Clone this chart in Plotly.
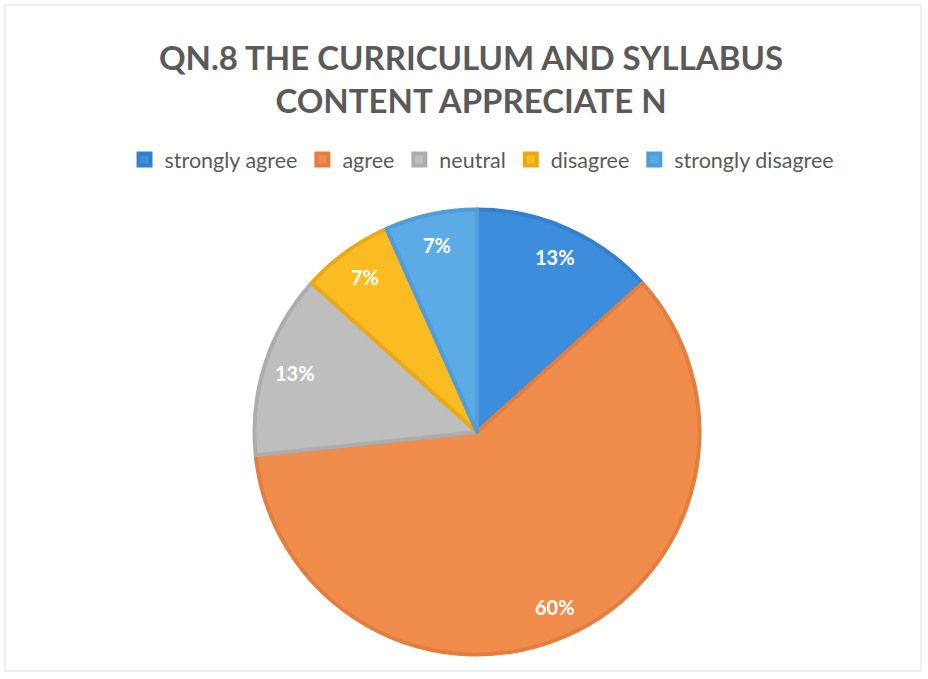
import math
import plotly.graph_objects as go

categories = ["strongly agree", "agree", "neutral", "disagree", "strongly disagree"]
counts = [2, 9, 2, 1, 1]
colors = ["#3C8DDC", "#F08C4C", "#BEBEBE", "#FBBB22", "#5CAAE6"]
edge_colors = ["#3580CC", "#E47E3E", "#ADADAD", "#EBAA14", "#4F9DDA"]
title_text = "QN.8 THE CURRICULUM AND SYLLABUS<br>CONTENT APPRECIATE N"

W, H = 928, 679
cx, cy, R = 477, 432, 222.5  # pie centre / radius in pixels (layout)

fig = go.Figure()
fig.add_trace(go.Pie(
    labels=categories,
    values=counts,
    sort=False,
    direction="clockwise",
    rotation=0,
    marker=dict(colors=colors, line=dict(color=edge_colors, width=4)),
    textinfo="none",
    domain=dict(x=[(cx - R) / W, (cx + R) / W], y=[(H - cy - R) / H, (H - cy + R) / H]),
    hoverinfo="label+percent",
))

# data labels placed at each slice's mid-angle (derived from the values)
total = sum(counts)
annotations = []
cum = 0
for v in counts:
    mid = (cum + v / 2) / total * 2 * math.pi
    cum += v
    rr = 0.86 * R
    px = cx + rr * math.sin(mid)
    py = cy - rr * math.cos(mid)
    annotations.append(dict(
        x=px / W, y=1 - py / H, xref="paper", yref="paper",
        text=f"{round(100 * v / total)}%", showarrow=False,
        font=dict(family="Lato", size=20, color="white", weight="bold"),
        xanchor="center", yanchor="middle",
    ))

fig.update_layout(
    width=W, height=H,
    margin=dict(l=0, r=0, t=0, b=0),
    paper_bgcolor="white",
    plot_bgcolor="white",
    title=dict(text=title_text, x=471 / W, xanchor="center", y=1 - 70 / H, yanchor="top",
               font=dict(family="Lato", size=33, color="#5A5A5A", weight="bold")),
    showlegend=True,
    legend=dict(orientation="h", x=482 / W, xanchor="center", y=1 - 139 / H, yanchor="top",
                font=dict(family="Lato", size=21.5, color="#5A5A5A"),
                itemwidth=30, traceorder="normal"),
    annotations=annotations,
    shapes=[dict(type="rect", xref="paper", yref="paper", x0=5 / W, x1=921 / W,
                 y0=1 - 671 / H, y1=1 - 5 / H, line=dict(color="#E0E0E0", width=1))],
)

fig.write_html("out.html", post_script="document.body.style.margin='0';",
               config={"displayModeBar": False})
